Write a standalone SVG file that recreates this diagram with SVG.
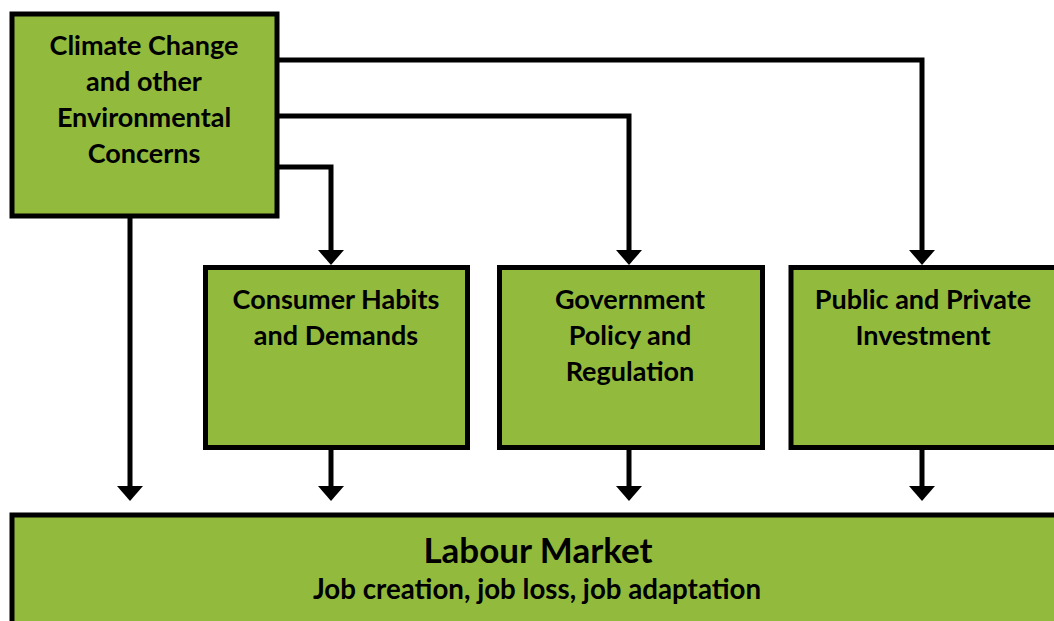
<svg xmlns="http://www.w3.org/2000/svg" width="1054" height="621" viewBox="0 0 1054 621">
<defs>
<style>
.box{fill:#92BB3E;stroke:#000;stroke-width:5}
.t{font-family:Lato,"Open Sans","Liberation Sans",sans-serif;font-weight:bold;font-size:27px;fill:#000;text-anchor:middle}
.big{font-size:35px}
.sub{font-size:27.7px}
.ln{fill:none;stroke:#000;stroke-width:5}
</style>
<marker id="ah" markerUnits="userSpaceOnUse" markerWidth="16" markerHeight="28" refX="0" refY="13" orient="auto" viewBox="0 0 16 28">
<path d="M0,0 L15,13 L0,26 Z" fill="#000"/>
</marker>
</defs>
<rect width="1054" height="621" fill="#fff"/>
<g id="connectors">
<path class="ln" d="M277,60 H922 V250" marker-end="url(#ah)"/>
<path class="ln" d="M277,116 H629 V250" marker-end="url(#ah)"/>
<path class="ln" d="M277,167 H331 V250" marker-end="url(#ah)"/>
<path class="ln" d="M130,216 V486" marker-end="url(#ah)"/>
<path class="ln" d="M331,448 V486" marker-end="url(#ah)"/>
<path class="ln" d="M629,448 V486" marker-end="url(#ah)"/>
<path class="ln" d="M922,448 V486" marker-end="url(#ah)"/>
</g>
<g id="climate">
<rect class="box" x="12" y="14" width="265" height="202"/>
<text class="t" x="144" y="55">Climate Change</text>
<text class="t" x="144" y="91">and other</text>
<text class="t" x="144" y="127">Environmental</text>
<text class="t" x="144" y="163">Concerns</text>
</g>
<g id="consumer">
<rect class="box" x="205.5" y="267.5" width="262" height="180"/>
<text class="t" x="336" y="309">Consumer Habits</text>
<text class="t" x="336" y="345">and Demands</text>
</g>
<g id="government">
<rect class="box" x="499.5" y="267.5" width="263" height="180"/>
<text class="t" x="630" y="309">Government</text>
<text class="t" x="630" y="345">Policy and</text>
<text class="t" x="630" y="381">Regulation</text>
</g>
<g id="investment">
<rect class="box" x="791" y="267.5" width="275" height="180"/>
<text class="t" x="923" y="309">Public and Private</text>
<text class="t" x="923" y="345">Investment</text>
</g>
<g id="labour">
<rect class="box" x="12" y="515" width="1060" height="120"/>
<text class="t big" x="538" y="563">Labour Market</text>
<text class="t sub" x="537" y="599">Job creation, job loss, job adaptation</text>
</g>
</svg>
